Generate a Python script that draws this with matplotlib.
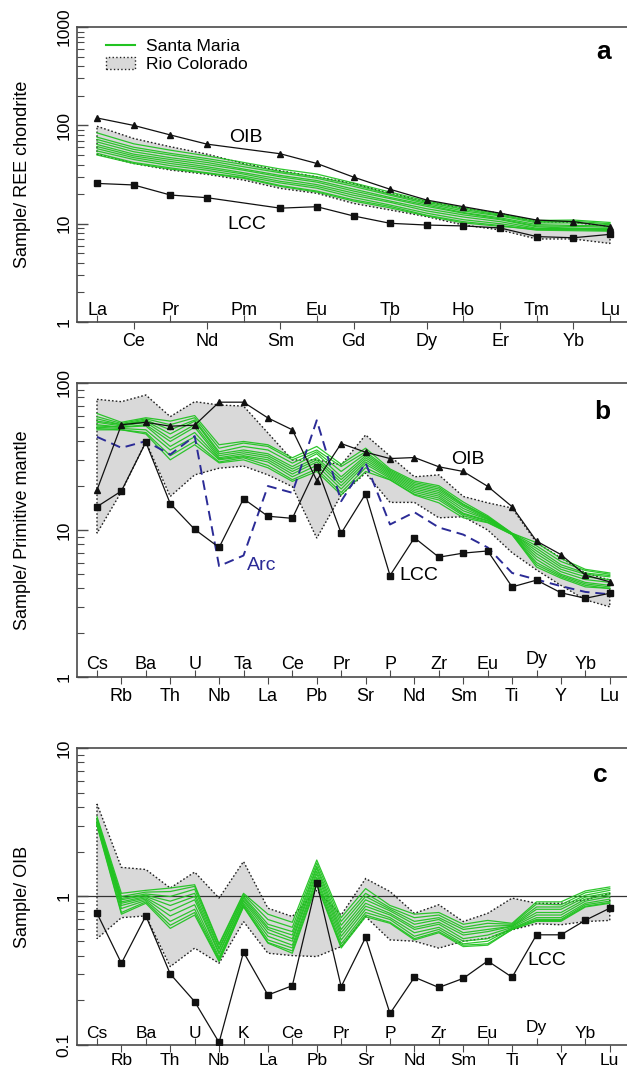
import matplotlib
matplotlib.use("Agg")
import matplotlib.pyplot as plt
from matplotlib.lines import Line2D
from matplotlib.patches import Patch
import numpy as np

plt.rcParams['font.family'] = ['Liberation Sans', 'DejaVu Sans']

# ---------------- data: panel a (REE / chondrite) ----------------
ree = ["La", "Ce", "Pr", "Nd", "Pm", "Sm", "Eu", "Gd", "Tb", "Dy", "Ho", "Er", "Tm", "Yb", "Lu"]

oib_a = [119, 100, 80, 64.5, None, 51.5, 41, 29.8, 22.4, 17.4, 14.9, 12.8, 10.9, 10.5, 9.35]
lcc_a = [25.7, 24.8, 19.6, 18.4, None, 14.4, 14.9, 12.0, 10.1, 9.7, 9.5, 9.06, 7.4, 7.2, 7.8]

rio_up_a = [98, 73.6, 60.7, 51, 41, 34.6, 30, 25.7, 20.4, 16.8, 14.4, 12.8, 10.5, 10.3, 9.35]
rio_lo_a = [51, 41, 35.2, 31.8, 27.8, 22.9, 20.4, 16.1, 13.8, 11.8, 9.7, 8.65, 7.0, 7.0, 6.3]

santa_a = [
    [84, 65, 56, 49, 42, 36, 32, 26, 21, 17, 14.5, 12.5, 10.8, 10.9, 10.3],
    [76, 60, 52, 46, 40, 34, 30, 25, 20, 16.5, 14, 12.2, 10.5, 10.6, 10.0],
    [72, 57, 50, 44, 38, 33, 29, 24, 19.5, 16, 13.5, 12, 10.2, 10.2, 9.8],
    [68, 54, 47, 42, 36, 31, 27.5, 22.5, 18.5, 15.5, 13, 11.5, 9.8, 9.6, 9.5],
    [64, 51, 45, 40, 35, 30, 26.5, 21.5, 18, 15, 12.8, 11.2, 9.5, 9.4, 9.2],
    [61, 49, 43, 38, 33, 28.5, 25, 20.5, 17, 14.2, 12.3, 11, 9.3, 9.0, 8.9],
    [58, 47, 41, 36.5, 32, 27, 24, 19.5, 16.5, 13.5, 11.7, 10.5, 9.0, 8.8, 8.7],
    [55, 45, 39, 35, 30.5, 26, 23, 18.5, 15.5, 12.8, 11, 10, 8.8, 8.7, 8.5],
    [52, 42, 37, 33, 29.5, 24.5, 21.5, 17.5, 15, 12.2, 10.5, 9.6, 8.6, 8.5, 8.4],
    [50, 41, 36, 32.5, 29, 24, 21, 17, 14.5, 12, 10.2, 9.4, 8.8, 9.0, 8.7],
]

# ---------------- data: panel b (primitive mantle) ----------------
pm_el = ["Cs", "Rb", "Ba", "Th", "U", "Nb", "Ta", "La", "Ce", "Pb", "Pr",
         "Sr", "P", "Nd", "Zr", "Sm", "Eu", "Ti", "Dy", "Y", "Yb", "Lu"]

oib_b = [18.7, 52, 54, 50.8, 51.6, 74, 74, 57.8, 48, 21.7, 38.7,
         33.8, 30.6, 31.1, 26.9, 25, 19.8, 14.4, 8.4, 6.8, 4.93, 4.44]
lcc_b = [14.4, 18.4, 39.5, 15.1, 10.1, 7.6, 16.3, 12.4, 12.0, 26.9, 9.5,
         17.6, 4.9, 8.85, 6.53, 6.96, 7.2, 4.1, 4.56, 3.74, 3.43, 3.71]
arc_b = [43, 36.2, 40.2, 32.6, 43.5, 5.68, 6.7, 19.9, 17.9, 55.7, 15.7,
         28.6, 10.9, 13.2, 10.4, 9.3, 7.6, 5.1, 4.6, 4.15, 3.79, 3.65]

rio_up_b = [77.4, 74.6, 82.8, 59, 74.6, 70.8, 69.6, 45.7, 29.9, 30, 27.7,
            44.3, 31.8, 23, 23.7, 16.9, 15.3, 14.1, 8.2, 6.46, 5.1, 4.57]
rio_lo_b = [9.5, 18.2, 39.8, 16.9, 23.7, 26.3, 27.2, 23.7, 19.7, 8.8, 17.3,
            24.4, 15.4, 15.4, 12.1, 12.3, 10, 7.0, 5.35, 4.2, 3.35, 3.0]

santa_b = [
    [62, 54, 58, 55, 60, 38, 40, 38, 31, 37, 28, 36, 26, 21.5, 20, 15.5, 12.5, 9.5, 8.2, 6.4, 5.4, 5.1],
    [59, 53, 57, 52, 58, 36, 39, 37, 30, 35, 27, 34, 25.5, 21, 19.5, 15, 12.3, 9.5, 7.8, 6.1, 5.3, 5.0],
    [57, 52, 56, 48, 56, 34, 37, 35, 28.5, 34, 25, 33, 25, 20.5, 19, 14.8, 12.2, 9.4, 7.5, 5.8, 5.1, 4.9],
    [55, 52, 55, 45, 55, 33, 35, 33, 27, 33, 23, 32, 24.5, 20, 18.5, 14.5, 12, 9.45, 7.2, 5.6, 5.0, 4.8],
    [54, 51, 54, 42, 52, 32, 34, 32, 26, 31, 22, 31, 24, 19.5, 18, 14, 11.9, 9.4, 6.9, 5.4, 4.8, 4.6],
    [52, 50, 52, 40, 50, 31, 33, 31, 25, 30, 21, 30, 23.5, 19, 17.5, 13.5, 11.8, 9.4, 6.6, 5.2, 4.6, 4.4],
    [51, 50, 51, 37, 46, 30.5, 32, 30, 24, 29, 20, 29, 23, 18.5, 17, 13, 11.6, 9.35, 6.3, 5.0, 4.4, 4.2],
    [50, 49, 48, 35, 43, 30, 31.5, 29, 23, 27.5, 19, 28, 22.5, 18, 16.5, 12.8, 11.5, 9.35, 6.0, 4.9, 4.3, 4.1],
    [49, 48, 46, 32, 40, 29, 31, 27.5, 22, 26, 18, 26.5, 22, 17.5, 16, 12.5, 11.3, 9.3, 5.8, 4.8, 4.2, 4.0],
    [48, 48, 45, 30, 38, 28.6, 30, 26.5, 21.4, 25, 17.3, 25, 21.9, 17.3, 15.3, 12.1, 11.2, 9.3, 5.6, 4.7, 4.1, 4.0],
]

# ---------------- data: panel c (OIB normalised) ----------------
oib_el = ["Cs", "Rb", "Ba", "Th", "U", "Nb", "K", "La", "Ce", "Pb", "Pr",
          "Sr", "P", "Nd", "Zr", "Sm", "Eu", "Ti", "Dy", "Y", "Yb", "Lu"]

lcc_c = [0.772, 0.355, 0.741, 0.301, 0.196, 0.104, 0.422, 0.217, 0.251, 1.24, 0.247,
         0.53, 0.163, 0.286, 0.244, 0.281, 0.368, 0.286, 0.552, 0.552, 0.692, 0.834]

rio_up_c = [4.2, 1.57, 1.52, 1.14, 1.46, 0.975, 1.72, 0.834, 0.733, 1.1, 0.75,
            1.32, 1.08, 0.77, 0.88, 0.678, 0.77, 0.975, 0.9, 0.9, 0.95, 1.05]
rio_lo_c = [0.52, 0.72, 0.74, 0.337, 0.449, 0.355, 0.678, 0.415, 0.40, 0.394, 0.46,
            0.733, 0.51, 0.50, 0.449, 0.50, 0.524, 0.596, 0.655, 0.645, 0.678, 0.69]

santa_c = [
    [3.45, 1.05, 1.10, 1.14, 1.20, 0.48, 1.05, 0.76, 0.67, 1.76, 0.72, 1.13, 0.87, 0.76, 0.78, 0.65, 0.69, 0.66, 0.92, 0.92, 1.09, 1.16],
    [3.35, 1.0, 1.07, 1.08, 1.17, 0.47, 1.03, 0.70, 0.62, 1.68, 0.68, 1.05, 0.84, 0.72, 0.75, 0.62, 0.66, 0.65, 0.89, 0.88, 1.06, 1.13],
    [3.3, 0.97, 1.04, 1.0, 1.12, 0.45, 1.0, 0.65, 0.58, 1.6, 0.64, 1.0, 0.82, 0.68, 0.72, 0.6, 0.63, 0.64, 0.85, 0.85, 1.02, 1.1],
    [3.25, 0.95, 1.02, 0.93, 1.05, 0.44, 0.98, 0.62, 0.55, 1.55, 0.6, 0.95, 0.8, 0.65, 0.7, 0.57, 0.6, 0.63, 0.82, 0.82, 0.99, 1.06],
    [3.2, 0.92, 1.0, 0.87, 1.0, 0.42, 0.95, 0.6, 0.52, 1.48, 0.57, 0.9, 0.77, 0.62, 0.67, 0.55, 0.58, 0.63, 0.78, 0.78, 0.96, 1.03],
    [3.15, 0.9, 0.98, 0.8, 0.95, 0.41, 0.93, 0.57, 0.5, 1.42, 0.54, 0.86, 0.75, 0.6, 0.65, 0.52, 0.55, 0.62, 0.75, 0.75, 0.93, 1.0],
    [3.1, 0.87, 0.96, 0.74, 0.88, 0.39, 0.9, 0.54, 0.47, 1.35, 0.51, 0.82, 0.72, 0.57, 0.62, 0.5, 0.52, 0.61, 0.72, 0.72, 0.9, 0.96],
    [3.08, 0.83, 0.94, 0.68, 0.82, 0.38, 0.88, 0.51, 0.45, 1.3, 0.48, 0.78, 0.7, 0.54, 0.6, 0.48, 0.5, 0.61, 0.7, 0.7, 0.88, 0.93],
    [3.05, 0.78, 0.92, 0.64, 0.78, 0.37, 0.86, 0.49, 0.43, 1.24, 0.46, 0.75, 0.67, 0.52, 0.58, 0.47, 0.48, 0.6, 0.69, 0.69, 0.86, 0.91],
    [3.0, 0.76, 0.9, 0.61, 0.75, 0.365, 0.85, 0.485, 0.415, 1.2, 0.45, 0.73, 0.66, 0.51, 0.57, 0.46, 0.47, 0.6, 0.68, 0.68, 0.85, 0.9],
]

GREEN = '#22c322'
GRAY = '#d9d9d9'
ARC = '#2b2b96'
SPINE = '#4a4a4a'


def pts(vals):
    x = [i for i, v in enumerate(vals) if v is not None]
    y = [v for v in vals if v is not None]
    return x, y


def setup(ax, names, ylim, yticks, ylabel, xlim, xpad=3, xfs=13):
    ax.set_yscale('log')
    ax.set_ylim(*ylim)
    ax.set_xlim(*xlim)
    ax.spines['right'].set_visible(False)
    for s in ['left', 'top', 'bottom']:
        ax.spines[s].set_color(SPINE)
        ax.spines[s].set_linewidth(1.2)
    ax.set_yticks(yticks, labels=[('%g' % t) for t in yticks],
                  rotation=90, va='center', fontsize=12.5)
    ax.yaxis.set_minor_locator(matplotlib.ticker.LogLocator(base=10, subs=np.arange(2, 10)))
    ax.yaxis.set_minor_formatter(matplotlib.ticker.NullFormatter())
    ax.tick_params(axis='y', which='major', direction='in', length=8, width=1, color=SPINE, pad=4)
    ax.tick_params(axis='y', which='minor', direction='in', length=5, width=0.8, color=SPINE)
    # odd elements: labels under the axis, even elements: labels inside
    odd = list(range(1, len(names), 2))
    even = list(range(0, len(names), 2))
    ax.set_xticks(odd, labels=[names[i] for i in odd], fontsize=xfs)
    ax.set_xticks(even, minor=True)
    ax.tick_params(axis='x', which='major', direction='out', length=5, width=0.8, color=SPINE, pad=xpad)
    ax.tick_params(axis='x', which='minor', direction='in', length=5, width=0.8, color=SPINE)
    for i in even:
        lab = names[i]
        yy = 0.032 if 'y' in lab else 0.012
        ax.text(i, yy, lab, transform=ax.get_xaxis_transform(), ha='center',
                va='bottom', fontsize=xfs)
    ax.set_ylabel(ylabel, fontsize=13)
    ax.yaxis.set_label_coords(-0.084, 0.5)


def envelope(ax, up, lo):
    n = len(up)
    xs = list(range(n)) + list(range(n - 1, -1, -1))
    ys = list(up) + list(lo[::-1])
    ax.fill(xs, ys, facecolor=GRAY, edgecolor='#222222', linestyle=(0, (1.2, 1.5)),
            linewidth=1.0, zorder=1)


def greens(ax, lines):
    for ln in lines:
        ax.plot(range(len(ln)), ln, color=GREEN, lw=0.9, alpha=0.95, zorder=2)


fig = plt.figure(figsize=(6.27, 10.7), dpi=100)
axa = fig.add_axes([0.1228, 0.699, 0.877, 0.2757])
axb = fig.add_axes([0.1228, 0.3673, 0.877, 0.2748])
axc = fig.add_axes([0.1228, 0.02336, 0.877, 0.2776])

# ---- panel a ----
setup(axa, ree, (1, 1000), [1, 10, 100, 1000], 'Sample/ REE chondrite', (-0.546, 14.46))
envelope(axa, rio_up_a, rio_lo_a)
greens(axa, santa_a)
x, y = pts(oib_a)
axa.plot(x, y, color='#111111', lw=0.9, marker='^', ms=5, zorder=3)
x, y = pts(lcc_a)
axa.plot(x, y, color='#111111', lw=0.9, marker='s', ms=4, zorder=3)
axa.text(4.05, 76, 'OIB', fontsize=14, ha='center', va='center')
axa.text(4.1, 9.9, 'LCC', fontsize=14, ha='center', va='center')
axa.text(0.958, 0.915, 'a', transform=axa.transAxes, fontsize=19, fontweight='bold',
         ha='center', va='center')
handles = [Line2D([0], [0], color=GREEN, lw=1.5),
           Patch(facecolor=GRAY, edgecolor='#222222', linestyle=':', linewidth=1.0)]
axa.legend(handles, ['Santa Maria', 'Rio Colorado'], loc='upper left',
           bbox_to_anchor=(0.03, 1.0), frameon=False, fontsize=12.5,
           handlelength=1.7, handletextpad=0.6, labelspacing=0.15, borderaxespad=0.3)

# ---- panel b ----
setup(axb, pm_el, (1, 100), [1, 10, 100], 'Sample/ Primitive mantle', (-0.819, 21.7))
envelope(axb, rio_up_b, rio_lo_b)
greens(axb, santa_b)
axb.plot(range(len(arc_b)), arc_b, color=ARC, lw=1.4, ls=(0, (5, 3)), zorder=3)
axb.plot(range(len(oib_b)), oib_b, color='#111111', lw=0.9, marker='^', ms=5, zorder=3)
axb.plot(range(len(lcc_b)), lcc_b, color='#111111', lw=0.9, marker='s', ms=4, zorder=3)
axb.text(15.17, 30.3, 'OIB', fontsize=14, ha='center', va='center')
axb.text(13.18, 4.89, 'LCC', fontsize=14, ha='center', va='center')
axb.text(6.74, 5.69, 'Arc', fontsize=14, ha='center', va='center', color=ARC)
axb.text(0.955, 0.902, 'b', transform=axb.transAxes, fontsize=19, fontweight='bold',
         ha='center', va='center')

# ---- panel c ----
setup(axc, oib_el, (0.1, 10), [0.1, 1, 10], 'Sample/ OIB', (-0.819, 21.7), xpad=1, xfs=12.5)
envelope(axc, rio_up_c, rio_lo_c)
greens(axc, santa_c)
axc.axhline(1, color='#333333', lw=0.9, zorder=1.5)
axc.plot(range(len(lcc_c)), lcc_c, color='#111111', lw=0.9, marker='s', ms=4, zorder=3)
axc.text(18.44, 0.373, 'LCC', fontsize=14, ha='center', va='center')
axc.text(0.951, 0.909, 'c', transform=axc.transAxes, fontsize=19, fontweight='bold',
         ha='center', va='center')

fig.savefig('out.png', dpi=100)
